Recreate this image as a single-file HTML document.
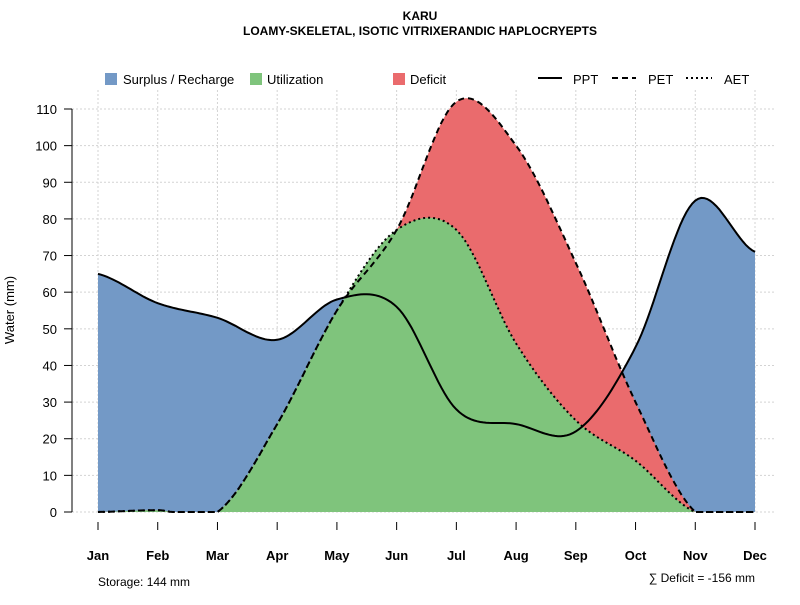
<!DOCTYPE html>
<html><head><meta charset="utf-8"><style>
body{margin:0;background:#fff;font-family:"Liberation Sans",sans-serif;}
svg text{font-family:"Liberation Sans",sans-serif;}
</style></head><body>
<svg id="chart" width="800" height="600">
<text x="420" y="20" text-anchor="middle" font-size="12" font-weight="bold">KARU</text>
<text x="420" y="35" text-anchor="middle" font-size="12" font-weight="bold">LOAMY-SKELETAL, ISOTIC VITRIXERANDIC HAPLOCRYEPTS</text>
<g id="grid"></g><g id="areas"></g><g id="lines"></g><g id="axes"></g>
<g>
<rect x="105" y="73" width="12" height="12" fill="#7399c6"/>
<text x="123" y="84" font-size="13">Surplus / Recharge</text>
<rect x="250" y="73" width="12" height="12" fill="#7fc47c"/>
<text x="267" y="84" font-size="13">Utilization</text>
<rect x="393" y="73" width="12" height="12" fill="#ea6b6d"/>
<text x="410" y="84" font-size="13">Deficit</text>
<line x1="538" y1="78" x2="562" y2="78" stroke="#000" stroke-width="2"/>
<text x="573" y="84" font-size="13">PPT</text>
<line x1="612" y1="78" x2="636" y2="78" stroke="#000" stroke-width="2" stroke-dasharray="6,4"/>
<text x="648" y="84" font-size="13">PET</text>
<line x1="686" y1="78" x2="712" y2="78" stroke="#000" stroke-width="2" stroke-dasharray="2,3"/>
<text x="724" y="84" font-size="13">AET</text>
</g>
<text x="14" y="310" transform="rotate(-90 14 310)" text-anchor="middle" font-size="13">Water (mm)</text>
<text x="98" y="586" font-size="12">Storage: 144 mm</text>
<text x="755" y="582" text-anchor="end" font-size="12">∑ Deficit = -156 mm</text>
</svg>
<script>
const months=["Jan","Feb","Mar","Apr","May","Jun","Jul","Aug","Sep","Oct","Nov","Dec"];
const ppt=[65,57,53,47,58,56,28,24,22,45,85,71];
const pet=[0,0.5,0,24,55,77,112,100,68,30,0,0];
const aet=[0,0.5,0,24,55,77,77,46,25,14,0,0];
const yTicks=[0,10,20,30,40,50,60,70,80,90,100,110];
const NS="http://www.w3.org/2000/svg";
const x0=98,x1=755,yb=512,yt=109,ymax=110;
const X=i=>x0+(x1-x0)*i/(months.length-1);
const Y=v=>yb-(yb-yt)*v/ymax;
function mk(tag,attrs,parent){const e=document.createElementNS(NS,tag);for(const k in attrs)e.setAttribute(k,attrs[k]);document.getElementById(parent).appendChild(e);return e;}
function sample(arr){const pts=[];const n=arr.length;for(let i=0;i<n-1;i++){const p0=arr[Math.max(i-1,0)],p1=arr[i],p2=arr[i+1],p3=arr[Math.min(i+2,n-1)];for(let s=0;s<20;s++){const t=s/20,t2=t*t,t3=t2*t;let v=0.5*((2*p1)+(-p0+p2)*t+(2*p0-5*p1+4*p2-p3)*t2+(-p0+3*p1-3*p2+p3)*t3);pts.push([X(i+t),Y(Math.max(0,v))]);}}pts.push([X(n-1),Y(Math.max(0,arr[n-1]))]);return pts;}
function line(pts){return "M"+pts.map(p=>p[0].toFixed(1)+","+p[1].toFixed(1)).join("L");}
function area(pts){return line(pts)+"L"+X(months.length-1)+","+yb+"L"+X(0)+","+yb+"Z";}
yTicks.forEach(v=>{const l=mk("line",{x1:72,x2:775,y1:Y(v),y2:Y(v),stroke:"#d3d3d3","stroke-dasharray":"2,2"},"grid");


const t=mk("line",{x1:64,x2:72,y1:Y(v),y2:Y(v),stroke:"#000"},"axes");


const tx=mk("text",{x:57,y:Y(v)+5,"text-anchor":"end","font-size":13},"axes");tx.textContent=v;

});
months.forEach((m,i)=>{const g=mk("line",{x1:X(i),x2:X(i),y1:90,y2:512,stroke:"#d3d3d3","stroke-dasharray":"2,2"},"grid");


const t=mk("line",{x1:X(i),x2:X(i),y1:522,y2:530,stroke:"#000"},"axes");


const tx=mk("text",{x:X(i),y:560,"text-anchor":"middle","font-size":13,"font-weight":"bold"},"axes");tx.textContent=m;

});
const ya=mk("line",{x1:72,x2:72,y1:Y(110),y2:Y(0),stroke:"#000"},"axes");


const sP=sample(ppt),sE=sample(pet),sA=sample(aet);
const a2=mk("path",{d:area(sP),fill:"#7399c6"},"areas");


const a1=mk("path",{d:area(sE),fill:"#ea6b6d"},"areas");


const a3=mk("path",{d:area(sA),fill:"#7fc47c"},"areas");


const l1=mk("path",{d:line(sP),fill:"none",stroke:"#000","stroke-width":2},"lines");


const l2=mk("path",{d:line(sE),fill:"none",stroke:"#000","stroke-width":2,"stroke-dasharray":"6,4"},"lines");


const l3=mk("path",{d:line(sA),fill:"none",stroke:"#000","stroke-width":2,"stroke-dasharray":"2,3"},"lines");


</script>
</body></html>
